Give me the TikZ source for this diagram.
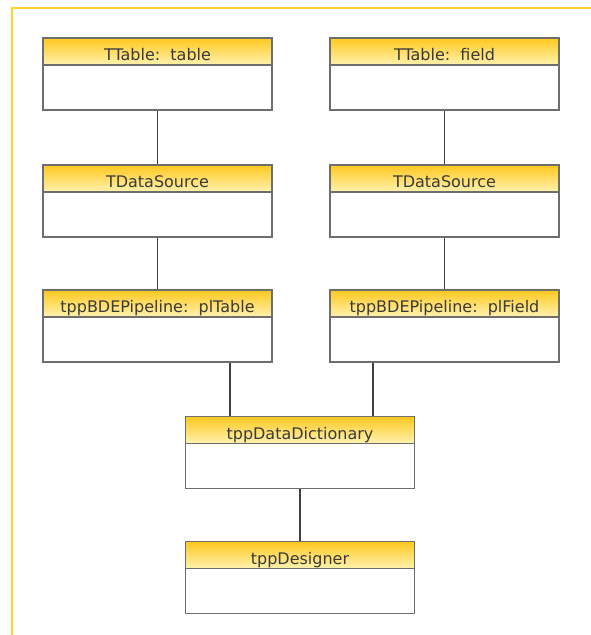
\documentclass[tikz,border=0pt]{standalone}
\usepackage{fontspec}
\setmainfont{DejaVu Sans}
\usetikzlibrary{positioning}
\definecolor{frameYellow}{HTML}{FFD426}
\definecolor{headTop}{HTML}{FFC81E}
\definecolor{headBottom}{HTML}{FFF2B0}
\definecolor{boxLine}{HTML}{6E6E6E}
\definecolor{labelInk}{HTML}{3A3A3A}

\begin{document}
\begin{tikzpicture}[
  x=1pt, y=-1pt,
  font=\fontsize{16}{18}\selectfont,
  classbox/.style={draw=boxLine, line width=1.6pt, fill=white,
    minimum width=229pt, minimum height=72pt, inner sep=0pt},
  classhead/.style={draw=boxLine, line width=1.6pt, top color=headTop,
    bottom color=headBottom, text=labelInk, minimum width=229pt,
    minimum height=27pt, inner sep=0pt, text height=18pt, text depth=0pt,
    anchor=north},
  link/.style={draw=black!75, line width=1.6pt}
]
  \useasboundingbox (0,0) rectangle (590,635);
  \draw[frameYellow, line width=2pt] (12,640) -- (12,8) -- (595,8);

  \node[classbox] (tbl) at (157.5,74) {};
  \node[classhead] (tblh) at (tbl.north) {TTable:\ \ table};
  \node[classbox] (fld) at (444.5,74) {};
  \node[classhead] (fldh) at (fld.north) {TTable:\ \ field};

  \node[classbox] (dsl) at (157.5,201) {};
  \node[classhead] (dslh) at (dsl.north) {TDataSource};
  \node[classbox] (dsr) at (444.5,201) {};
  \node[classhead] (dsrh) at (dsr.north) {TDataSource};

  \node[classbox] (plt) at (157.5,326) {};
  \node[classhead] (plth) at (plt.north) {tppBDEPipeline:\ \ plTable};
  \node[classbox] (plf) at (444.5,326) {};
  \node[classhead] (plfh) at (plf.north) {tppBDEPipeline:\ \ plField};

  \node[classbox] (dict) at (300,452.5) {};
  \node[classhead] (dicth) at (dict.north) {tppDataDictionary};
  \node[classbox] (dsgn) at (300,577.5) {};
  \node[classhead] (dsgnh) at (dsgn.north) {tppDesigner};

  \coordinate (plt-out) at ([xshift=72.5pt]plt.south);
  \coordinate (plf-out) at ([xshift=-71.5pt]plf.south);

  \draw[link] (tbl) -- (dslh);
  \draw[link] (fld) -- (dsrh);
  \draw[link] (dsl) -- (plth);
  \draw[link] (dsr) -- (plfh);
  \draw[link] (plt-out) -- (plt-out |- dict.north);
  \draw[link] (plf-out) -- (plf-out |- dict.north);
  \draw[link] (dict) -- (dsgnh);
\end{tikzpicture}
\end{document}
